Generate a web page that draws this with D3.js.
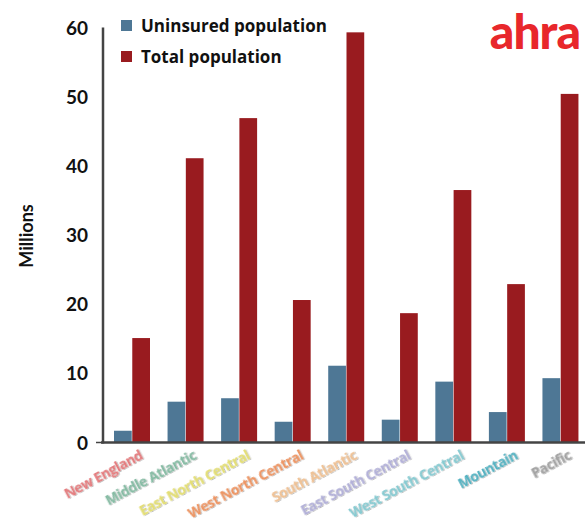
<!DOCTYPE html>
<html><head><meta charset="utf-8">
<script src="https://cdn.jsdelivr.net/npm/d3@7"></script>
<style>body{margin:0;background:#fff}svg{display:block}</style>
</head><body>
<svg id="c" width="585" height="523"></svg>
<script>
const categories = ["New England","Middle Atlantic","East North Central","West North Central","South Atlantic","East South Central","West South Central","Mountain","Pacific"];
const uninsured = [1.7, 5.9, 6.4, 3.0, 11.1, 3.3, 8.8, 4.4, 9.3];
const total = [15.1, 41.1, 46.9, 20.6, 59.3, 18.7, 36.5, 22.9, 50.4];
const seriesNames = ["Uninsured population","Total population"];
const seriesColors = ["#4e7795","#991b1f"];
const labelColors = ["#e57d7f","#86bca4","#e4df74","#ee9563","#f0c295","#b3b1d9","#87cbd2","#56b3c2","#a3a3a3"];
const yTicks = [0,10,20,30,40,50,60];

const svg = d3.select("#c");
const font = "'Open Sans', sans-serif";
const x = d3.scaleBand().domain(categories).range([103, 585]).paddingInner(0).paddingOuter(0);
const xs = d3.scaleBand().domain(seriesNames).range([11, 47]).paddingInner(0.03);
const y = d3.scaleLinear().domain([0, 60]).range([442.5, 27.5]);

const defs = svg.append("defs");
const f = defs.append("filter").attr("id","sh").attr("x","-20%").attr("y","-60%").attr("width","140%").attr("height","220%");
f.append("feDropShadow").attr("dx",0.8).attr("dy",0.8).attr("stdDeviation",0.5).attr("flood-color","#000").attr("flood-opacity",0.35);

const data = categories.map((c,i)=>({c, vals:[uninsured[i], total[i]]}));
const g = svg.append("g");
data.forEach(d=>{
  d.vals.forEach((v,j)=>{
    g.append("rect")
      .attr("x", x(d.c) + xs(seriesNames[j]))
      .attr("width", xs.bandwidth())
      .attr("y", y(v))
      .attr("height", y(0)-y(v))
      .attr("fill", seriesColors[j]);
  });
});

// y axis
const ya = svg.append("g").attr("transform","translate(103,0)")
  .call(d3.axisLeft(y).tickValues(yTicks).tickSize(0).tickPadding(15));
ya.select(".domain").attr("stroke","#444").attr("stroke-width",2.5).attr("d", `M0,${y(60)}V${y(0)+1}`);
ya.selectAll("text").attr("font-family","'Lato', sans-serif").attr("font-weight","bold").attr("font-size",19).attr("fill","#111").attr("dy","0.35em");
svg.append("line").attr("x1",96).attr("x2",103).attr("y1",y(0)).attr("y2",y(0)).attr("stroke","#444").attr("stroke-width",1.5);

// x axis
const xa = svg.append("g").attr("transform",`translate(0,${y(0)})`)
  .call(d3.axisBottom(x).tickSize(0).tickPadding(0));
xa.select(".domain").attr("stroke","#444").attr("stroke-width",2.5).attr("d","M101,0H585");
xa.selectAll(".tick text")
  .attr("font-family",font).attr("font-weight","bold").attr("font-size",14)
  .attr("fill",(d,i)=>labelColors[i])
  .attr("text-anchor","end")
  .attr("transform","translate(14,16) rotate(-28)")
  .attr("dy","0")
  .attr("letter-spacing","-0.4")
  .attr("filter","url(#sh)");

// y label
svg.append("text").attr("transform","translate(33,236) rotate(-90)")
  .attr("text-anchor","middle").attr("font-family","'Lato', sans-serif").attr("font-weight","bold").attr("font-size",18).attr("fill","#111").text("Millions");

// legend
seriesNames.forEach((s,i)=>{
  svg.append("rect").attr("x",121).attr("y",20+i*31).attr("width",11).attr("height",11).attr("fill",seriesColors[i]);
  svg.append("text").attr("x",141).attr("y",32+i*31).attr("font-family",font).attr("font-weight","bold").attr("font-size",17).attr("fill","#111").text(s);
});

// logo
svg.append("text").attr("x",580).attr("y",49).attr("text-anchor","end").attr("font-family","'Lato', sans-serif").attr("font-weight","900").attr("font-size",48).attr("fill","#e8272b").attr("letter-spacing","-1").text("ahra");
</script>
</body></html>
